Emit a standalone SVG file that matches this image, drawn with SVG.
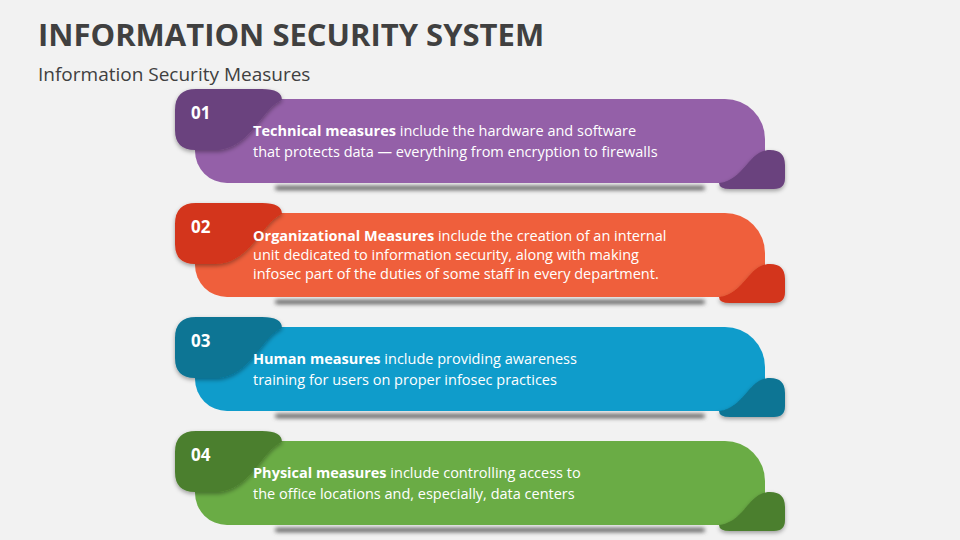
<svg xmlns="http://www.w3.org/2000/svg" width="960" height="540" viewBox="0 0 960 540">
<style>
text{font-family:"Open Sans","Liberation Sans",sans-serif}
.t{font-size:14.5px;fill:#fff}
.b{font-weight:bold}
.n{font-size:17px;font-weight:bold;fill:#fff}
</style>
<defs>
<filter id="bl" x="-10%" y="-200%" width="120%" height="500%"><feGaussianBlur stdDeviation="2"/></filter>
<filter id="ds" x="-20%" y="-20%" width="140%" height="160%"><feDropShadow dx="0" dy="2" stdDeviation="2" flood-opacity="0.35"/></filter>
<g id="band">
<rect x="275" y="186" width="430" height="4" rx="2" fill="#555" filter="url(#bl)"/>
<path d="M195,99 H725 A40,40 0 0 1 765,139 V183 H227 A32,32 0 0 1 195,151 Z"/>
</g>
<path id="tl" d="M175,110 Q175,89 196,89 H262 Q282,89 282,100 C262,108 250,150 215,150 H195 Q175,150 175,130 Z"/>
<path id="br" d="M719,183 C745,180 748,150 770,150 Q785,150 785,165 V178 Q785,189 774,189 H730 Q719,189 719,183 Z"/>
</defs>
<rect width="960" height="540" fill="#f2f2f2"/>
<text x="38" y="46" font-size="31" font-weight="bold" fill="#404040">INFORMATION SECURITY SYSTEM</text>
<text x="38" y="81" font-size="19" fill="#404040">Information Security Measures</text>
<g id="connectors"/>
<g id="n1">
<use href="#band" fill="#9460A8"/>
<use href="#br" fill="#6B437E" filter="url(#ds)"/>
<use href="#tl" fill="#6B437E" filter="url(#ds)"/>
<text class="n" x="191" y="119">01</text>
<text class="t" x="253" y="136"><tspan class="b">Technical measures</tspan> include the hardware and software</text>
<text class="t" x="253" y="157">that protects data — everything from encryption to firewalls</text>
</g>
<g id="n2" transform="translate(0,114)">
<use href="#band" fill="#EF5F3C"/>
<use href="#br" fill="#D3341A" filter="url(#ds)"/>
<use href="#tl" fill="#D3341A" filter="url(#ds)"/>
<text class="n" x="191" y="119">02</text>
<text class="t" x="253" y="127"><tspan class="b">Organizational Measures</tspan> include the creation of an internal</text>
<text class="t" x="253" y="146">unit dedicated to information security, along with making</text>
<text class="t" x="253" y="165">infosec part of the duties of some staff in every department.</text>
</g>
<g id="n3" transform="translate(0,228)">
<use href="#band" fill="#0F9CCB"/>
<use href="#br" fill="#0A7494" filter="url(#ds)"/>
<use href="#tl" fill="#0A7494" filter="url(#ds)"/>
<text class="n" x="191" y="119">03</text>
<text class="t" x="253" y="136"><tspan class="b">Human measures</tspan> include providing awareness</text>
<text class="t" x="253" y="157">training for users on proper infosec practices</text>
</g>
<g id="n4" transform="translate(0,342)">
<use href="#band" fill="#6AAC45"/>
<use href="#br" fill="#4C7F2E" filter="url(#ds)"/>
<use href="#tl" fill="#4C7F2E" filter="url(#ds)"/>
<text class="n" x="191" y="119">04</text>
<text class="t" x="253" y="136"><tspan class="b">Physical measures</tspan> include controlling access to</text>
<text class="t" x="253" y="157">the office locations and, especially, data centers</text>
</g>
</svg>
